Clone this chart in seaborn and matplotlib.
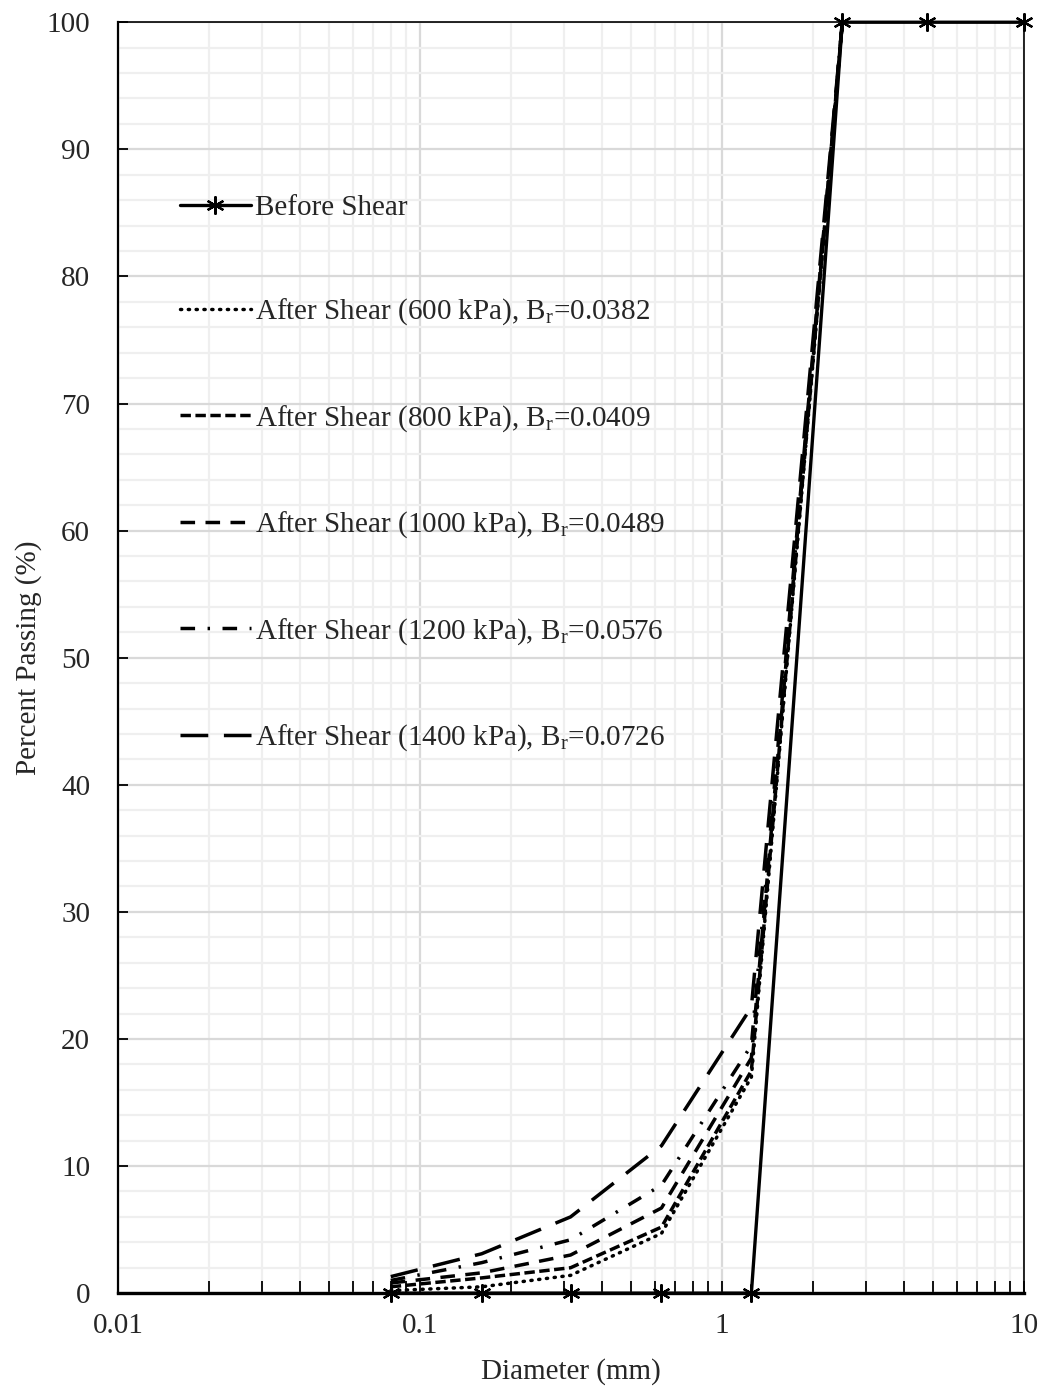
import numpy as np
import pandas as pd
import matplotlib
matplotlib.use("Agg")
import matplotlib.pyplot as plt
from matplotlib.ticker import LogLocator, MultipleLocator, FixedLocator, FixedFormatter
import seaborn as sns

# ---- data ----
diam_before = [0.08, 0.16, 0.315, 0.63, 1.25, 2.5, 4.75, 10]
pass_before = [0, 0, 0, 0, 0, 100, 100, 100]

diam_after = [0.08, 0.16, 0.315, 0.63, 1.25, 2.5]
pass_600 = [0.2, 0.5, 1.4, 4.7, 17.0, 100]
pass_800 = [0.5, 1.2, 2.0, 5.2, 17.5, 100]
pass_1000 = [0.8, 1.6, 3.0, 6.7, 18.5, 100]
pass_1200 = [1.0, 2.4, 4.2, 8.5, 19.5, 100]
pass_1400 = [1.3, 3.1, 6.0, 11.6, 22.5, 100]

labels = [
    "Before Shear",
    "After Shear (600 kPa), B$_\\mathrm{r}$=0.0382",
    "After Shear (800 kPa), B$_\\mathrm{r}$=0.0409",
    "After Shear (1000 kPa), B$_\\mathrm{r}$=0.0489",
    "After Shear (1200 kPa), B$_\\mathrm{r}$=0.0576",
    "After Shear (1400 kPa), B$_\\mathrm{r}$=0.0726",
]
x_ticks = [0.01, 0.1, 1, 10]
x_ticklabels = ["0.01", "0.1", "1", "10"]
y_ticks = list(range(0, 101, 10))

sns.set_theme(style="white")
plt.rcParams["font.family"] = ["Liberation Serif", "DejaVu Serif"]
plt.rcParams["mathtext.fontset"] = "custom"
plt.rcParams["mathtext.rm"] = "Liberation Serif"
plt.rcParams["mathtext.it"] = "Liberation Serif:italic"

fig = plt.figure(figsize=(10.44, 13.89), dpi=100)
ax = fig.add_axes([0.113, 0.069, 0.868, 0.915])

frames = []
frames.append(pd.DataFrame({"d": diam_before, "p": pass_before, "s": labels[0]}))
for lab, vals in zip(labels[1:], [pass_600, pass_800, pass_1000, pass_1200, pass_1400]):
    frames.append(pd.DataFrame({"d": diam_after, "p": vals, "s": lab}))
df = pd.concat(frames, ignore_index=True)

styles = [
    "-",
    (0, (0.35, 1.9)),
    (0, (3.0, 1.3)),
    (0, (4.2, 3.0)),
    (0, (4.2, 3.6, 0.7, 3.6)),
    (0, (8.0, 4.5)),
]

for i, lab in enumerate(labels):
    sub = df[df["s"] == lab]
    kw = dict(color="black", linestyle=styles[i], linewidth=2.5, label=lab,
              sort=False, clip_on=False, dash_capstyle="butt")
    if i == 0:
        kw.update(marker=(6, 2, 0), markersize=13, markeredgewidth=1.6,
                  markeredgecolor="black", linewidth=2.4, zorder=5)
    else:
        kw.update(zorder=4)
        if i == 1:
            kw["dash_capstyle"] = "round"
    sns.lineplot(data=sub, x="d", y="p", ax=ax, **kw)

ax.set_xscale("log")
ax.set_xlim(0.01, 10)
ax.set_ylim(0, 100)
ax.xaxis.set_major_locator(FixedLocator(x_ticks))
ax.xaxis.set_major_formatter(FixedFormatter(x_ticklabels))
ax.xaxis.set_minor_locator(LogLocator(base=10, subs=np.arange(2, 10)))
ax.xaxis.set_minor_formatter(plt.NullFormatter())
ax.yaxis.set_major_locator(FixedLocator(y_ticks))
ax.yaxis.set_minor_locator(MultipleLocator(2))

ax.grid(which="major", color="#d9d9d9", linewidth=1.6)
ax.grid(which="minor", color="#efefef", linewidth=1.6)
ax.set_axisbelow(True)

ax.tick_params(axis="x", which="major", direction="in", length=9, width=1.3,
               color="black", labelsize=21, pad=14, bottom=True)
ax.tick_params(axis="x", which="minor", direction="in", length=9, width=1.3,
               color="black", bottom=True)
ax.tick_params(axis="y", which="major", direction="in", length=7, width=1.3,
               color="black", labelsize=21, pad=20, left=True)
ax.tick_params(axis="y", which="minor", left=False)

for name, sp in ax.spines.items():
    sp.set_color("black")
    sp.set_linewidth(1.2)
    sp.set_visible(True)
ax.spines["bottom"].set_linewidth(2.4)
ax.spines["left"].set_linewidth(1.6)

ax.set_xlabel("Diameter (mm)", fontsize=21, labelpad=14)
ax.set_ylabel("Percent Passing (%)", fontsize=21, labelpad=3)

leg = ax.legend(loc="upper left", bbox_to_anchor=(0.052, 0.876), frameon=False,
                fontsize=21, handlelength=2.45, handletextpad=0.12,
                labelspacing=2.6, borderpad=0)

fig.savefig("out.png", dpi=100)
